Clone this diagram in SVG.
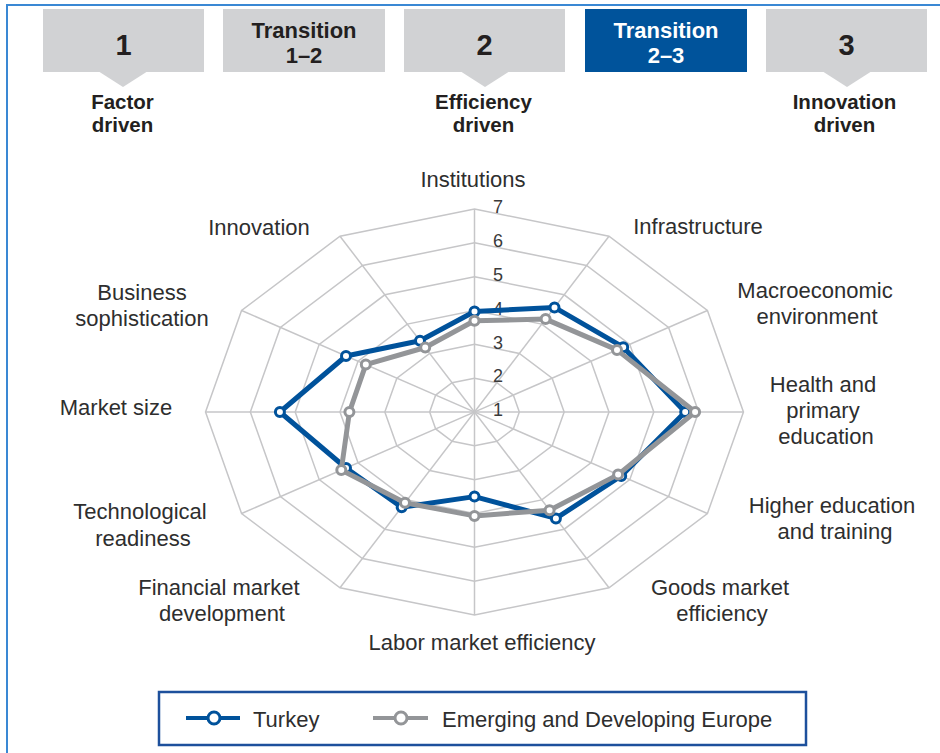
<svg xmlns="http://www.w3.org/2000/svg" xmlns:xlink="http://www.w3.org/1999/xlink" width="940" height="753" viewBox="0 0 940 753">
<style>
.box{fill:#d1d2d4}
.boxon{fill:#00539b}
.hd{font-family:"Liberation Sans",Arial,sans-serif;font-weight:bold;font-size:22px;fill:#231f20;text-anchor:middle}
.sub{font-size:20.5px}
.big{font-size:29px}
.wt{fill:#ffffff}
.lb{font-family:"Liberation Sans",Arial,sans-serif;font-size:22px;fill:#2e2e2e;text-anchor:middle}
.num{font-family:"Liberation Sans",Arial,sans-serif;font-size:18px;fill:#3a3a3a;text-anchor:middle}
.grid{fill:none;stroke:#c6c6c8;stroke-width:1.5;vector-effect:non-scaling-stroke}
.spoke{stroke:#c6c6c8;stroke-width:1.5}
.tk{fill:none;stroke:#00529b;stroke-width:5;stroke-linejoin:round}
.gy{fill:none;stroke:#939598;stroke-width:5;stroke-linejoin:round}
.mtk{fill:#ffffff;stroke:#00529b;stroke-width:3}
.mgy{fill:#ffffff;stroke:#939598;stroke-width:3}
</style>
<defs>
<polygon id="ring" class="grid" points="0,-33.83 22.415,-29.3 38.82,-16.915 44.83,0 38.82,16.915 22.415,29.3 0,33.83 -22.415,29.3 -38.82,16.915 -44.83,0 -38.82,-16.915 -22.415,-29.3"/>
</defs>
<rect width="940" height="753" fill="#ffffff"/>
<path d="M7,753 V5 H940" fill="none" stroke="#3a88d4" stroke-width="2"/>

<g id="stage-1">
<rect class="box" x="43" y="9" width="161" height="63"/>
<polygon class="box" points="98,71 148,71 123,87"/>
<text class="hd big" x="123.5" y="55">1</text>
<text class="hd sub" x="122.5" y="109">Factor</text>
<text class="hd sub" x="122.5" y="132">driven</text>
</g>
<g id="transition-1-2">
<rect class="box" x="223" y="9" width="162" height="63"/>
<text class="hd" x="304" y="38">Transition</text>
<text class="hd" x="304" y="63">1–2</text>
</g>
<g id="stage-2">
<rect class="box" x="404" y="9" width="161" height="63"/>
<polygon class="box" points="460,71 510,71 485,87"/>
<text class="hd big" x="484.5" y="55">2</text>
<text class="hd sub" x="483.5" y="109">Efficiency</text>
<text class="hd sub" x="483.5" y="132">driven</text>
</g>
<g id="transition-2-3">
<rect class="boxon" x="585" y="9" width="162" height="63"/>
<text class="hd wt" x="666" y="38">Transition</text>
<text class="hd wt" x="666" y="63">2–3</text>
</g>
<g id="stage-3">
<rect class="box" x="766" y="9" width="161" height="63"/>
<polygon class="box" points="822,71 872,71 847,87"/>
<text class="hd big" x="846.5" y="55">3</text>
<text class="hd sub" x="844.5" y="109">Innovation</text>
<text class="hd sub" x="844.5" y="132">driven</text>
</g>

<g id="grid" transform="translate(474.5,412)">
<use xlink:href="#ring" href="#ring" transform="scale(1)"/>
<use xlink:href="#ring" href="#ring" transform="scale(2)"/>
<use xlink:href="#ring" href="#ring" transform="scale(3)"/>
<use xlink:href="#ring" href="#ring" transform="scale(4)"/>
<use xlink:href="#ring" href="#ring" transform="scale(5)"/>
<use xlink:href="#ring" href="#ring" transform="scale(6)"/>
<line class="spoke" x1="0" y1="-203" x2="0" y2="203"/>
<line class="spoke" x1="134.5" y1="-175.8" x2="-134.5" y2="175.8"/>
<line class="spoke" x1="232.9" y1="-101.5" x2="-232.9" y2="101.5"/>
<line class="spoke" x1="269" y1="0" x2="-269" y2="0"/>
<line class="spoke" x1="232.9" y1="101.5" x2="-232.9" y2="-101.5"/>
<line class="spoke" x1="134.5" y1="175.8" x2="-134.5" y2="-175.8"/>
</g>

<g id="scale">
<text class="num" x="498" y="416">1</text>
<text class="num" x="498" y="382">2</text>
<text class="num" x="498" y="348.5">3</text>
<text class="num" x="498" y="314.5">4</text>
<text class="num" x="498" y="281">5</text>
<text class="num" x="498" y="247">6</text>
<text class="num" x="498" y="213">7</text>
</g>

<g id="series-turkey">
<polygon class="tk" points="474.5,311.5 554.5,307.4 623.2,347.2 685.2,412 621.2,475.9 555.9,518.4 474.5,496.6 401.7,507.2 346,468 279.9,412 346,356 420,340.8"/>
<g class="mtk">
<circle cx="474.5" cy="311.5" r="4.5"/><circle cx="554.5" cy="307.4" r="4.5"/><circle cx="623.2" cy="347.2" r="4.5"/><circle cx="685.2" cy="412" r="4.5"/><circle cx="621.2" cy="475.9" r="4.5"/><circle cx="555.9" cy="518.4" r="4.5"/><circle cx="474.5" cy="496.6" r="4.5"/><circle cx="401.7" cy="507.2" r="4.5"/><circle cx="346" cy="468" r="4.5"/><circle cx="279.9" cy="412" r="4.5"/><circle cx="346" cy="356" r="4.5"/><circle cx="420" cy="340.8" r="4.5"/>
</g>
</g>
<g id="series-europe">
<polygon class="gy" points="474.5,320.7 545.6,319.1 617,349.9 695.1,412 618.1,474.6 549.6,510.2 474.5,515.9 405,502.8 341.3,470 349.4,412 365.8,364.6 425.2,347.5"/>
<g class="mgy">
<circle cx="474.5" cy="320.7" r="4.5"/><circle cx="545.6" cy="319.1" r="4.5"/><circle cx="617" cy="349.9" r="4.5"/><circle cx="695.1" cy="412" r="4.5"/><circle cx="618.1" cy="474.6" r="4.5"/><circle cx="549.6" cy="510.2" r="4.5"/><circle cx="474.5" cy="515.9" r="4.5"/><circle cx="405" cy="502.8" r="4.5"/><circle cx="341.3" cy="470" r="4.5"/><circle cx="349.4" cy="412" r="4.5"/><circle cx="365.8" cy="364.6" r="4.5"/><circle cx="425.2" cy="347.5" r="4.5"/>
</g>
</g>

<g id="axis-labels">
<text class="lb" x="473" y="187">Institutions</text>
<text class="lb" x="698" y="234">Infrastructure</text>
<text class="lb" x="815" y="298">Macroeconomic</text>
<text class="lb" x="817" y="324">environment</text>
<text class="lb" x="823" y="392">Health and</text>
<text class="lb" x="823" y="418">primary</text>
<text class="lb" x="826" y="444">education</text>
<text class="lb" x="832" y="513">Higher education</text>
<text class="lb" x="835" y="539">and training</text>
<text class="lb" x="720" y="595">Goods market</text>
<text class="lb" x="722" y="621">efficiency</text>
<text class="lb" x="482" y="650">Labor market efficiency</text>
<text class="lb" x="219" y="595">Financial market</text>
<text class="lb" x="222" y="621">development</text>
<text class="lb" x="140" y="519">Technological</text>
<text class="lb" x="143" y="546">readiness</text>
<text class="lb" x="116" y="415">Market size</text>
<text class="lb" x="142" y="300">Business</text>
<text class="lb" x="142" y="326">sophistication</text>
<text class="lb" x="259" y="235">Innovation</text>
</g>

<g id="legend">
<rect x="159" y="692" width="647" height="53" fill="#ffffff" stroke="#1d509c" stroke-width="2.5"/>
<line x1="186" y1="718" x2="240" y2="718" stroke="#00529b" stroke-width="4"/>
<circle class="mtk" cx="214" cy="718" r="6"/>
<text class="lb" x="253" y="727" style="text-anchor:start">Turkey</text>
<line x1="373" y1="718" x2="428" y2="718" stroke="#939598" stroke-width="4"/>
<circle class="mgy" cx="401" cy="718" r="6"/>
<text class="lb" x="442" y="727" style="text-anchor:start">Emerging and Developing Europe</text>
</g>
</svg>
